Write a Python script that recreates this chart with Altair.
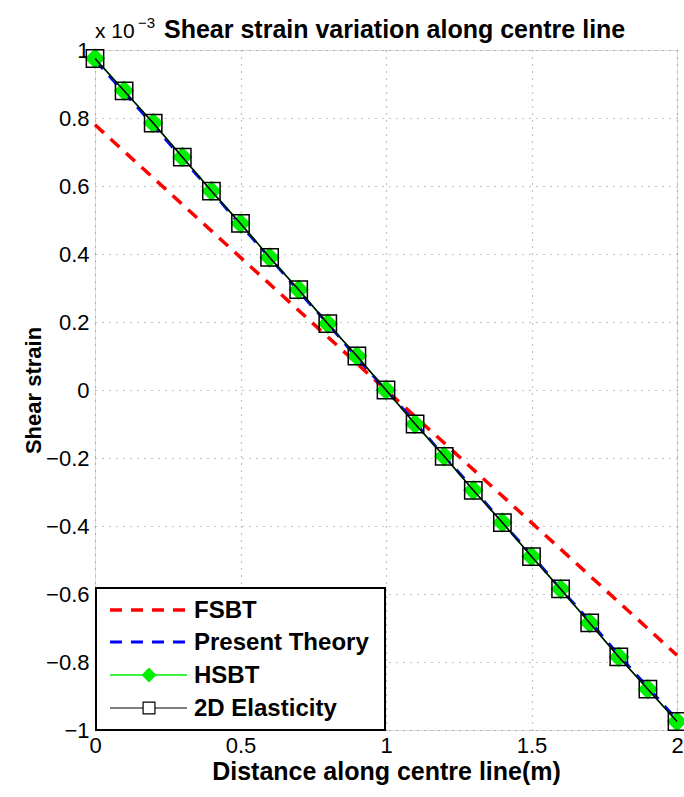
import altair as alt
import pandas as pd

# ---- data ----
x_pts = [0.0, 0.1, 0.2, 0.3, 0.4, 0.5, 0.6, 0.7, 0.8, 0.9, 1.0,
         1.1, 1.2, 1.3, 1.4, 1.5, 1.6, 1.7, 1.8, 1.9, 2.0]
elasticity_2d = [0.975, 0.88, 0.785, 0.685, 0.585, 0.49, 0.39, 0.295, 0.195, 0.1, 0.0,
                 -0.1, -0.195, -0.295, -0.39, -0.49, -0.585, -0.685, -0.785, -0.88, -0.975]
hsbt = [0.975, 0.88, 0.785, 0.685, 0.585, 0.49, 0.39, 0.295, 0.195, 0.1, 0.0,
        -0.1, -0.195, -0.295, -0.39, -0.49, -0.585, -0.685, -0.785, -0.88, -0.975]
present_theory = [0.97, 0.875, 0.78, 0.68, 0.585, 0.485, 0.39, 0.29, 0.195, 0.095, 0.0,
                  -0.095, -0.195, -0.29, -0.39, -0.485, -0.585, -0.68, -0.78, -0.875, -0.97]
fsbt_x = [0.0, 0.5, 1.0, 1.5, 2.0]
fsbt = [0.78, 0.39, 0.0, -0.39, -0.78]

series_names = ["FSBT", "Present Theory", "HSBT", "2D Elasticity"]
x_ticks = [0, 0.5, 1, 1.5, 2]
y_ticks = [1, 0.8, 0.6, 0.4, 0.2, 0, -0.2, -0.4, -0.6, -0.8, -1]
title_text = "Shear strain variation along centre line"

df_main = pd.DataFrame({"x": x_pts, "e2d": elasticity_2d, "hsbt": hsbt, "pt": present_theory})
df_fsbt = pd.DataFrame({"x": fsbt_x, "y": fsbt})

FONT = "Liberation Sans"
FS = 22   # tick labels
FB = 24   # bold texts

xs = alt.Scale(domain=[0, 2], nice=False, zero=False)
ys = alt.Scale(domain=[-1, 1], nice=False, zero=False)

x_axis = alt.Axis(values=x_ticks, title="Distance along centre line(m)", labelFontSize=FS,
                  titleFontSize=25, titleFontWeight="bold", labelFont=FONT, titleFont=FONT,
                  labelColor="black", titleColor="black", grid=True, gridDash=[1, 6],
                  gridColor="#888", gridWidth=1.2, domain=False, ticks=False, labelPadding=5,
                  titlePadding=3, labelFlush=False,
                  labelExpr="format(datum.value, '')")
y_axis = alt.Axis(values=y_ticks, title="Shear strain", labelFontSize=FS,
                  titleFontSize=FB - 2, titleFontWeight="bold", labelFont=FONT, titleFont=FONT,
                  labelColor="black", titleColor="black", grid=True, gridDash=[1, 6],
                  gridColor="#888", gridWidth=1.2, domain=False, ticks=False, labelPadding=6,
                  titlePadding=0, labelFlush=False,
                  labelExpr="replace(format(datum.value, ''), '-', '\u2212')")

base = alt.Chart(df_main)

fsbt_line = alt.Chart(df_fsbt).mark_line(color="#ff0000", strokeWidth=3.5, strokeDash=[12, 9]).encode(
    x=alt.X("x:Q", scale=xs, axis=x_axis), y=alt.Y("y:Q", scale=ys, axis=y_axis))
pt_line = base.mark_line(color="#0000ff", strokeWidth=3, strokeDash=[12, 9]).encode(
    x=alt.X("x:Q", scale=xs), y=alt.Y("pt:Q", scale=ys))
hsbt_line = base.mark_line(color="#00ee00", strokeWidth=1.5).encode(
    x=alt.X("x:Q", scale=xs), y=alt.Y("hsbt:Q", scale=ys))
hsbt_pts = base.mark_point(shape="diamond", filled=True, color="#00ee00", size=420, opacity=1).encode(
    x=alt.X("x:Q", scale=xs), y=alt.Y("hsbt:Q", scale=ys))
e2d_line = base.mark_line(color="#000000", strokeWidth=1.5).encode(
    x=alt.X("x:Q", scale=xs), y=alt.Y("e2d:Q", scale=ys))
e2d_pts = base.mark_point(shape="square", filled=False, color="#000000", size=300, strokeWidth=1.5, opacity=1).encode(
    x=alt.X("x:Q", scale=xs), y=alt.Y("e2d:Q", scale=ys))

# ---- manual legend (MATLAB style box in lower-left) ----
one = alt.Chart(pd.DataFrame({"a": [0]}))
leg_box = one.mark_rect(fill="white", stroke="black", strokeWidth=2).encode(
    x=alt.value(1), x2=alt.value(290), y=alt.value(538), y2=alt.value(680))
legend_layers = [leg_box]
ly = [560, 592, 625, 658]
styles = [("#ff0000", 3.5, [12, 9]), ("#0000ff", 3, [12, 9]), ("#00ee00", 1.5, None), ("#000000", 1.2, None)]
for name, yy, (col, sw, dash) in zip(series_names, ly, styles):
    kw = dict(color=col, strokeWidth=sw)
    if dash:
        kw["strokeDash"] = dash
    legend_layers.append(one.mark_rule(**kw).encode(
        x=alt.value(15), x2=alt.value(92), y=alt.value(yy)))
    legend_layers.append(one.mark_text(align="left", baseline="middle", font=FONT, fontSize=FB,
                                       fontWeight="bold", color="black").encode(
        x=alt.value(99), y=alt.value(yy + 1), text=alt.value(name)))
legend_layers.append(one.mark_point(shape="diamond", filled=True, color="#00ee00", size=220, opacity=1).encode(
    x=alt.value(54), y=alt.value(ly[2])))
legend_layers.append(one.mark_point(shape="square", filled=True, fill="white", stroke="black",
                                    size=140, strokeWidth=1.2, opacity=1).encode(
    x=alt.value(54), y=alt.value(ly[3])))

# ---- "x 10^-3" multiplier label and title ----
mult = one.mark_text(align="left", baseline="alphabetic", font=FONT, fontSize=21, color="black").encode(
    x=alt.value(0), y=alt.value(-12), text=alt.value("x 10"))
mult_exp = one.mark_text(align="left", baseline="alphabetic", font=FONT, fontSize=15, color="black").encode(
    x=alt.value(43), y=alt.value(-22), text=alt.value("\u22123"))
title_mark = one.mark_text(align="left", baseline="alphabetic", font=FONT, fontSize=25,
                           fontWeight="bold", color="black").encode(
    x=alt.value(69), y=alt.value(-12), text=alt.value(title_text))

chart = alt.layer(
    fsbt_line, pt_line, hsbt_line, hsbt_pts, e2d_line, e2d_pts, *legend_layers,
    mult, mult_exp, title_mark
).properties(
    width=582, height=680,
    padding={"left": 95, "top": 50, "right": 7, "bottom": 67},
    autosize="none",
).configure_view(stroke="black", strokeWidth=2).configure(background="white")

chart.save("out.html", embed_options={"renderer": "svg", "actions": False})
